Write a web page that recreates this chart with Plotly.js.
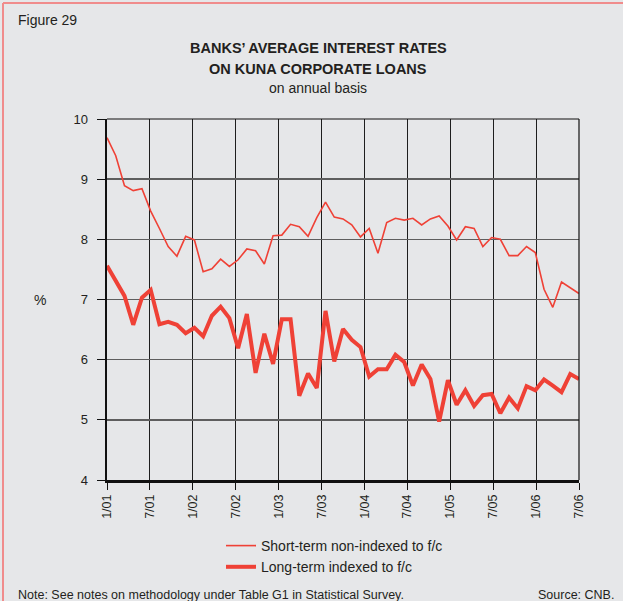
<!DOCTYPE html>
<html>
<head>
<meta charset="utf-8">
<script src="https://cdn.plot.ly/plotly-3.0.1.min.js"></script>
<style>html,body{margin:0;padding:0;background:#e6e7e9;}#chart{width:623px;height:601px;}</style>
</head>
<body>
<div id="chart"></div>
<script>
// Tick labels (half-year marks, 1/01 .. 7/06)
const tickLabels = ['1/01','7/01','1/02','7/02','1/03','7/03','1/04','7/04','1/05','7/05','1/06','7/06'];

// Short-term non-indexed to f/c (%)
const shortTerm = [9.69, 9.39, 8.89, 8.81, 8.84, 8.47, 8.18, 7.88, 7.72, 8.05,
  7.99, 7.46, 7.51, 7.67, 7.55, 7.66, 7.84, 7.81, 7.59, 8.06,
  8.07, 8.25, 8.21, 8.05, 8.36, 8.62, 8.37, 8.34, 8.24, 8.04,
  8.18, 7.77, 8.28, 8.35, 8.32, 8.35, 8.24, 8.34, 8.39, 8.22,
  7.99, 8.21, 8.18, 7.88, 8.03, 8.00, 7.73, 7.73, 7.88, 7.78,
  7.17, 6.87, 7.29, 7.19, 7.10];

// Long-term indexed to f/c (%)
const longTerm = [7.56, 7.30, 7.06, 6.58, 7.03, 7.16, 6.59, 6.63, 6.58, 6.44,
  6.53, 6.39, 6.73, 6.88, 6.69, 6.19, 6.76, 5.78, 6.43, 5.93,
  6.67, 6.67, 5.40, 5.77, 5.53, 6.81, 5.97, 6.51, 6.33, 6.21,
  5.72, 5.84, 5.84, 6.08, 5.96, 5.57, 5.92, 5.68, 4.97, 5.66,
  5.25, 5.49, 5.23, 5.41, 5.43, 5.11, 5.37, 5.19, 5.56, 5.49,
  5.67, 5.57, 5.46, 5.76, 5.68];

const seriesNames = ['Short-term non-indexed to f/c', 'Long-term indexed to f/c'];

const nPts = shortTerm.length;
const xIdx = shortTerm.map((_, i) => i);
const tickVals = tickLabels.map((_, k) => k * (nPts - 1) / (tickLabels.length - 1));

const red = '#ef4136';
const txt = '#231f20';
const font = 'Liberation Sans, Arial, Helvetica, sans-serif';

const traces = [
  {x: xIdx, y: shortTerm, type: 'scatter', mode: 'lines', name: seriesNames[0],
   line: {color: red, width: 1.6}},
  {x: xIdx, y: longTerm, type: 'scatter', mode: 'lines', name: seriesNames[1],
   line: {color: red, width: 4}}
];

// pixel helpers for paper coords of the plot area
const L = 107, R = 44, T = 119, B = 121, W = 623, H = 601;
const pw = W - L - R, ph = H - T - B;
const px = v => (v - L) / pw;
const py = v => (H - B - v) / ph;

const layout = {
  width: W, height: H,
  margin: {l: L, r: R, t: T, b: B, pad: 0},
  paper_bgcolor: '#e6e7e9',
  plot_bgcolor: '#e6e7e9',
  font: {family: font, color: txt, size: 13},
  showlegend: true,
  legend: {x: px(221), xanchor: 'left', y: py(530), yanchor: 'top',
    bgcolor: 'rgba(0,0,0,0)', font: {size: 14, color: txt}, tracegroupgap: 0},
  title: {text: ''},
  xaxis: {
    range: [0, nPts - 1], tickmode: 'array', tickvals: tickVals, ticktext: tickLabels,
    tickangle: -90, ticks: 'outside', ticklen: 7, tickwidth: 1, tickcolor: '#111',
    showline: true, linewidth: 2.5, linecolor: '#111',
    showgrid: true, gridcolor: '#1e1e1e', gridwidth: 1, zeroline: false,
    tickfont: {size: 12.5, color: txt}, fixedrange: true
  },
  yaxis: {
    range: [4, 10], dtick: 1, tick0: 4, ticks: 'outside', ticklen: 8, tickwidth: 1, tickcolor: '#111',
    showline: true, linewidth: 2.5, linecolor: '#111',
    showgrid: true, gridcolor: '#5e5e5e', gridwidth: 1.4, zeroline: false,
    tickfont: {size: 13, color: txt}, ticklabelstandoff: 6, fixedrange: true
  },
  shapes: [
    // plot frame top and right
    {type: 'line', xref: 'paper', yref: 'paper', x0: 0, x1: 1, y0: 1, y1: 1, line: {color: '#111', width: 1.2}},
    {type: 'line', xref: 'paper', yref: 'paper', x0: 1, x1: 1, y0: 0, y1: 1, line: {color: '#111', width: 1.2}},
    // page border (pink)
    {type: 'line', xref: 'paper', yref: 'paper', x0: px(3), x1: px(640), y0: py(3), y1: py(3), line: {color: '#f08c8c', width: 2}},
    {type: 'line', xref: 'paper', yref: 'paper', x0: px(3), x1: px(3), y0: py(3), y1: py(620), line: {color: '#f08c8c', width: 2}}
  ],
  annotations: [
    {text: 'Figure 29', xref: 'paper', yref: 'paper', x: px(16), y: py(20), xanchor: 'left', yanchor: 'middle',
     showarrow: false, font: {size: 14, color: txt}},
    {text: '<b>BANKS\u2019 AVERAGE INTEREST RATES</b>', xref: 'paper', yref: 'paper', x: px(318), y: py(48),
     xanchor: 'center', yanchor: 'middle', showarrow: false, font: {size: 14.5, color: txt}},
    {text: '<b>ON KUNA CORPORATE LOANS</b>', xref: 'paper', yref: 'paper', x: px(318), y: py(69),
     xanchor: 'center', yanchor: 'middle', showarrow: false, font: {size: 14.5, color: txt}},
    {text: 'on annual basis', xref: 'paper', yref: 'paper', x: px(318), y: py(88),
     xanchor: 'center', yanchor: 'middle', showarrow: false, font: {size: 14, color: txt}},
    {text: '%', xref: 'paper', yref: 'paper', x: px(40), y: py(300),
     xanchor: 'center', yanchor: 'middle', showarrow: false, font: {size: 14, color: txt}},
    {text: 'Note: See notes on methodology under Table G1 in Statistical Survey.', xref: 'paper', yref: 'paper',
     x: px(16), y: py(595), xanchor: 'left', yanchor: 'middle', showarrow: false, font: {size: 12.5, color: txt}},
    {text: 'Source: CNB.', xref: 'paper', yref: 'paper', x: px(616), y: py(595),
     xanchor: 'right', yanchor: 'middle', showarrow: false, font: {size: 12.5, color: txt}}
  ]
};

Plotly.newPlot('chart', traces, layout, {staticPlot: true, displayModeBar: false});
</script>
</body>
</html>
